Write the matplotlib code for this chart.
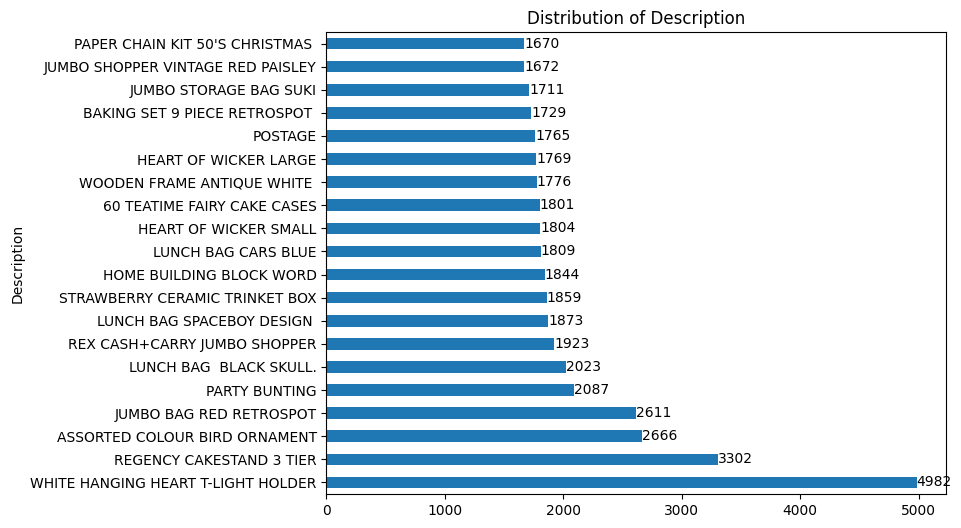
import pandas as pd
import matplotlib
matplotlib.use("Agg")
import matplotlib.pyplot as plt

descriptions = [
    "WHITE HANGING HEART T-LIGHT HOLDER",
    "REGENCY CAKESTAND 3 TIER",
    "ASSORTED COLOUR BIRD ORNAMENT",
    "JUMBO BAG RED RETROSPOT",
    "PARTY BUNTING",
    "LUNCH BAG  BLACK SKULL.",
    "REX CASH+CARRY JUMBO SHOPPER",
    "LUNCH BAG SPACEBOY DESIGN ",
    "STRAWBERRY CERAMIC TRINKET BOX",
    "HOME BUILDING BLOCK WORD",
    "LUNCH BAG CARS BLUE",
    "HEART OF WICKER SMALL",
    "60 TEATIME FAIRY CAKE CASES",
    "WOODEN FRAME ANTIQUE WHITE ",
    "HEART OF WICKER LARGE",
    "POSTAGE",
    "BAKING SET 9 PIECE RETROSPOT ",
    "JUMBO STORAGE BAG SUKI",
    "JUMBO SHOPPER VINTAGE RED PAISLEY",
    "PAPER CHAIN KIT 50'S CHRISTMAS ",
]
counts = [4982, 3302, 2666, 2611, 2087, 2023, 1923, 1873, 1859, 1844,
          1809, 1804, 1801, 1776, 1769, 1765, 1729, 1711, 1672, 1670]

s = pd.Series(counts, index=pd.Index(descriptions, name="Description"), name="count")

fig = plt.figure(figsize=(9.61, 5.28), dpi=100)
ax = fig.add_axes([0.3397, 0.0644, 0.6447, 0.875])
s.plot(kind="barh", ax=ax)
ax.bar_label(ax.containers[0])
ax.set_title("Distribution of Description")

fig.savefig("out.png", dpi=100)
